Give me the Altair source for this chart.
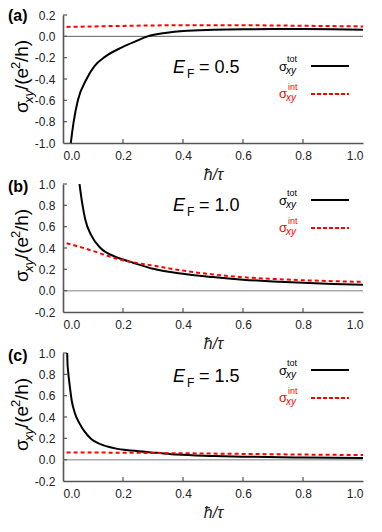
import altair as alt
import pandas as pd

# ---------------- data ----------------
# (a) E_F = 0.5
a_tot_x = [0.026, 0.0356, 0.0496, 0.0787, 0.105, 0.141, 0.195, 0.243, 0.282, 0.346, 0.40, 0.5, 0.6, 0.7, 0.8, 0.9, 1.0]
a_tot_y = [-1.0, -0.80, -0.60, -0.40, -0.28, -0.19, -0.105, -0.045, 0.0, 0.033, 0.050, 0.062, 0.067, 0.068, 0.068, 0.066, 0.062]
a_int_x = [0.012, 0.1, 0.2, 0.3, 0.4, 0.5, 0.6, 0.7, 0.8, 0.9, 1.0]
a_int_y = [0.088, 0.093, 0.098, 0.102, 0.104, 0.105, 0.104, 0.102, 0.099, 0.096, 0.093]

# (b) E_F = 1.0
b_tot_x = [0.055, 0.064, 0.074, 0.094, 0.125, 0.168, 0.2, 0.233, 0.3, 0.4, 0.5, 0.6, 0.7, 0.8, 0.9, 1.0]
b_tot_y = [1.0, 0.82, 0.67, 0.52, 0.40, 0.325, 0.292, 0.262, 0.205, 0.158, 0.127, 0.103, 0.087, 0.074, 0.063, 0.055]
b_int_x = [0.012, 0.05, 0.1, 0.15, 0.2, 0.233, 0.25, 0.3, 0.4, 0.5, 0.6, 0.7, 0.8, 0.9, 1.0]
b_int_y = [0.445, 0.415, 0.372, 0.325, 0.285, 0.267, 0.258, 0.235, 0.188, 0.152, 0.126, 0.110, 0.098, 0.089, 0.082]

# (c) E_F = 1.5
c_tot_x = [0.014, 0.015, 0.017, 0.023, 0.029, 0.04, 0.055, 0.071, 0.093, 0.125, 0.174, 0.228, 0.314, 0.379, 0.5, 0.6, 0.8, 1.0]
c_tot_y = [1.0, 0.9, 0.83, 0.68, 0.555, 0.433, 0.34, 0.267, 0.197, 0.145, 0.106, 0.085, 0.064, 0.048, 0.035, 0.028, 0.020, 0.015]
c_int_x = [0.012, 0.2, 0.4, 0.6, 0.8, 1.0]
c_int_y = [0.068, 0.065, 0.060, 0.054, 0.048, 0.043]

x_ticks = [0.0, 0.2, 0.4, 0.6, 0.8, 1.0]
y_ticks_a = [-1.0, -0.8, -0.6, -0.4, -0.2, 0.0, 0.2]
y_ticks_bc = [-0.2, 0.0, 0.2, 0.4, 0.6, 0.8, 1.0]

panel_labels = ["(a)", "(b)", "(c)"]
ef_values = ["= 0.5", "= 1.0", "= 1.5"]

# ---------------- styling ----------------
FONT = "Liberation Sans"
AX = "#555555"
W, H = 300, 128
ONE = pd.DataFrame({"k": [0]})


def txt(s, x, y, size, color="black", **kw):
    return alt.Chart(ONE).mark_text(
        text=s, fontSize=size, font=FONT, align="left", baseline="alphabetic",
        color=color, **kw
    ).encode(x=alt.value(x), y=alt.value(y))


def panel(tx, ty, ix, iy, ydom, yticks, lab, ef, zcol, zw, lab_y, ef_y, leg_y):
    xs = alt.Scale(domain=[0, 1], nice=False, zero=False)
    ys = alt.Scale(domain=ydom, nice=False, zero=False)
    yexpr = "(datum.value < -0.001 ? '-' : '') + format(abs(datum.value), '.1f')"
    xax = alt.Axis(
        values=x_ticks, labelExpr="format(datum.value, '.1f')", ticks=False,
        grid=False, domainColor=AX, domainWidth=1.6, labelFont=FONT,
        labelFontSize=12, labelColor="#222", labelPadding=7,
        title="ħ/τ", titleFont=FONT, titleFontSize=16, titleFontStyle="italic",
        titleFontWeight="normal", titleColor="#222", titlePadding=5)
    yax = alt.Axis(
        values=yticks, labelExpr=yexpr, ticks=False, grid=False,
        domainColor=AX, domainWidth=1.6, labelFont=FONT, labelFontSize=12,
        labelColor="#222", labelPadding=8, title=None)

    def X(f):
        return alt.X(f, scale=xs, axis=xax, title="ħ/τ")

    def Y(f):
        return alt.Y(f, scale=ys, axis=yax, title=None)

    zero = alt.Chart(pd.DataFrame({"z": [0.0]})).mark_rule(
        color=zcol, strokeWidth=zw
    ).encode(y=Y("z:Q"))

    xt = alt.Chart(pd.DataFrame({"v": x_ticks[1:-1]})).mark_rule(
        color=AX, strokeWidth=1.2
    ).encode(x=X("v:Q"), y=alt.value(H), y2=alt.value(H - 4))

    yt = alt.Chart(pd.DataFrame({"v": yticks[1:]})).mark_rule(
        color=AX, strokeWidth=1.2
    ).encode(y=Y("v:Q"), x=alt.value(0), x2=alt.value(4))

    tot = alt.Chart(pd.DataFrame({"x": tx, "y": ty})).mark_line(
        color="black", strokeWidth=2, clip=True, interpolate="monotone"
    ).encode(x=X("x:Q"), y=Y("y:Q"))

    inte = alt.Chart(pd.DataFrame({"x": ix, "y": iy})).mark_line(
        color="#ff0000", strokeWidth=2, strokeDash=[4, 3], clip=True,
        interpolate="monotone"
    ).encode(x=X("x:Q"), y=Y("y:Q"))

    # y axis title sigma_xy/(e^2/h), rotated, built from pieces
    ty0, tx0 = 98, -35
    ytitle = [
        txt("σ", tx0, ty0, 19, angle=270, dx=0),
        txt("xy", tx0, ty0, 13, angle=270, dx=10, dy=5, fontStyle="italic"),
        txt("/(e", tx0, ty0, 19, angle=270, dx=23),
        txt("2", tx0, ty0, 13, angle=270, dx=44, dy=-8),
        txt("/h)", tx0, ty0, 19, angle=270, dx=51),
    ]

    # panel label
    plab = txt(lab, -55, lab_y, 16, fontWeight="bold")

    # E_F annotation
    ex = 110
    efl = [
        txt("E", ex, ef_y, 18, fontStyle="italic"),
        txt("F", ex + 14, ef_y + 5, 12),
        txt(ef, ex + 26, ef_y, 18),
    ]

    # legend
    lx = 216
    r_y = leg_y + 28
    leg = [
        txt("σ", lx, leg_y + 5, 13),
        txt("tot", lx + 8, leg_y - 4, 9),
        txt("xy", lx + 7, leg_y + 8, 10, fontStyle="italic"),
        alt.Chart(ONE).mark_rule(color="black", strokeWidth=2).encode(
            x=alt.value(lx + 32), x2=alt.value(lx + 70), y=alt.value(leg_y)),
        txt("σ", lx, r_y + 4, 13, color="#ff0000"),
        txt("int", lx + 9, r_y - 4, 9, color="#ff0000"),
        txt("xy", lx + 7, r_y + 7, 10, color="#ff0000", fontStyle="italic"),
        alt.Chart(ONE).mark_rule(color="#ff0000", strokeWidth=2, strokeDash=[4, 2]).encode(
            x=alt.value(lx + 32), x2=alt.value(lx + 70), y=alt.value(r_y)),
    ]

    return alt.layer(zero, xt, yt, tot, inte, *ytitle, plab, *efl, *leg).properties(
        width=W, height=H)


pa = panel(a_tot_x, a_tot_y, a_int_x, a_int_y, [-1.0, 0.2], y_ticks_a,
           panel_labels[0], ef_values[0], "#333333", 0.8, 6, 58, 51)
pb = panel(b_tot_x, b_tot_y, b_int_x, b_int_y, [-0.2, 1.0], y_ticks_bc,
           panel_labels[1], ef_values[1], "#aaaaaa", 1.5, 8, 27, 16)
pc = panel(c_tot_x, c_tot_y, c_int_x, c_int_y, [-0.2, 1.0], y_ticks_bc,
           panel_labels[2], ef_values[2], "#aaaaaa", 1.5, 8, 29, 17)

chart = alt.vconcat(pa, pb, pc, spacing=41, bounds="flush").properties(
    padding=0
).configure_view(stroke=None)

chart.save("out.html", embed_options={"renderer": "svg", "actions": False})
